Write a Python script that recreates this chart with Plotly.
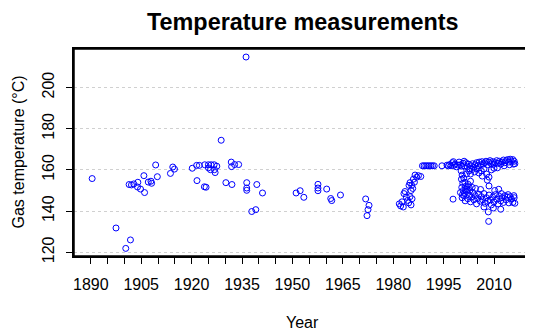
import plotly.graph_objects as go

# ---- data ----
early_years = [1890.4, 1897.5, 1900.4, 1901.8, 1901.4, 1902.1, 1902.8, 1904.0, 1903.9, 1904.8,
               1906.0, 1905.8, 1907.1, 1907.9, 1908.1, 1909.3, 1909.8, 1913.7, 1914.4, 1914.9,
               1920.2, 1921.6, 1921.5, 1922.3, 1923.8, 1924.3, 1923.9, 1925.0, 1925.8, 1926.7,
               1927.5, 1925.0, 1925.6, 1926.8, 1927.0, 1928.8, 1930.2, 1931.8, 1931.9, 1932.0,
               1932.8, 1934.0, 1936.2, 1936.4, 1936.4, 1936.4, 1939.4, 1937.9, 1939.1, 1941.1]
early_temps = [155.8, 131.8, 121.9, 126.0, 152.9, 152.7, 153.2, 154.0, 151.7, 150.7,
               149.0, 157.2, 154.1, 154.5, 153.5, 162.4, 156.7, 158.3, 161.4, 160.4,
               160.8, 154.8, 162.2, 162.2, 151.8, 151.6, 162.5, 162.5, 162.5, 162.5,
               161.8, 161.0, 160.1, 160.1, 158.7, 174.4, 153.8, 163.8, 161.6, 152.9,
               162.6, 162.6, 214.8, 153.8, 151.2, 150.1, 152.9, 139.8, 140.7, 148.8]

mid_years = [1951.1, 1952.3, 1953.4, 1957.6, 1957.6, 1957.6, 1960.2, 1961.4, 1961.7, 1964.3,
             1971.8, 1972.8, 1972.5, 1972.2]
mid_temps = [148.8, 149.9, 146.7, 153.0, 151.2, 149.9, 150.7, 146.1, 145.1, 147.8,
             145.9, 142.8, 140.7, 137.8]

eighties_years = [1981.8, 1982.2, 1982.6, 1983.0, 1983.2, 1983.5, 1983.9, 1984.3, 1984.7, 1985.0,
                  1985.5, 1985.3, 1985.0, 1984.6, 1985.3, 1985.6, 1986.0, 1986.5, 1987.0, 1987.5,
                  1988.2, 1986.3, 1985.8]
eighties_temps = [143.5, 142.5, 144.5, 142.0, 148.5, 149.5, 146.8, 145.2, 152.5, 153.8,
                  152.5, 150.0, 147.0, 144.0, 143.0, 146.0, 155.5, 157.5, 156.5, 157.2,
                  156.8, 154.0, 151.0]

row_years = [1988.7, 1989.2, 1989.7, 1990.2, 1990.7, 1991.2, 1991.7, 1992.2, 1994.5, 1996.0,
             1996.4, 1996.8, 1997.2, 1997.6, 1998.0, 1998.4, 1998.8, 1999.2, 1999.6, 1997.9,
             2001.1]
row_temps = [162.0, 162.0, 162.0, 162.0, 162.0, 162.0, 162.0, 162.0, 162.0, 162.3,
             162.0, 162.6, 162.0, 163.5, 162.2, 162.8, 161.5, 162.4, 163.8, 164.0,
             164.2]

upper_years = [2000.0, 2000.4, 2000.8, 2001.2, 2001.6, 2002.0, 2002.4, 2002.8, 2003.2, 2003.6,
               2004.0, 2004.4, 2004.8, 2005.2, 2005.6, 2006.0, 2006.4, 2006.8, 2007.2, 2007.6,
               2008.0, 2008.4, 2008.8, 2009.2, 2009.6, 2010.0, 2010.4, 2010.8, 2011.2, 2011.6,
               2012.0, 2012.4, 2012.8, 2013.2, 2013.6, 2014.0, 2014.4, 2014.8, 2015.2, 2015.6,
               2016.0, 2016.2, 2015.8, 2014.6, 2013.0,
               2002.5, 2003.0, 2003.5, 2004.2, 2005.0, 2005.5, 2006.2, 2007.0, 2007.8, 2008.5,
               2009.2, 2010.0, 2011.0, 2006.5, 2008.0]
upper_temps = [162.5, 161.8, 163.2, 162.0, 163.5, 161.5, 162.8, 160.5, 162.0, 163.0,
               161.2, 162.5, 163.5, 162.0, 163.8, 162.5, 164.0, 162.8, 163.5, 164.2,
               162.5, 163.8, 164.5, 163.0, 164.0, 162.8, 163.5, 164.5, 163.2, 164.2,
               162.8, 163.8, 164.8, 163.5, 164.5, 165.0, 163.8, 165.2, 164.0, 165.0,
               164.2, 163.0, 162.8, 162.5, 162.0,
               159.5, 158.0, 160.2, 159.0, 160.5, 158.5, 159.5, 160.5, 158.0, 156.5,
               160.0, 160.8, 161.0, 157.0, 155.0]

arm_years = [2000.2, 2000.5, 2000.3, 2000.7, 2000.4, 2000.8, 2001.0, 2001.3, 2001.5, 2001.8,
             2002.0, 2002.3, 2001.2, 2000.6, 2002.6, 2003.0]
arm_temps = [159.5, 157.5, 155.5, 153.5, 151.5, 150.0, 156.0, 154.0, 152.0, 158.0,
             150.5, 153.0, 148.5, 148.0, 151.5, 154.5]

lower_years = [2000.0, 2000.5, 2001.0, 2001.4, 2001.8, 2002.2, 2002.6, 2003.0, 2003.3, 2003.7,
               2004.0, 2004.4, 2004.8, 2005.1, 2005.5, 2005.9, 2006.2, 2006.6, 2007.0, 2007.3,
               2007.7, 2008.1, 2008.5, 2008.9, 2009.2, 2009.6, 2010.0, 2010.4, 2010.8, 2011.2,
               2011.6, 2012.0, 2012.4, 2012.8, 2013.2, 2013.6, 2014.0, 2014.4, 2014.8, 2015.2,
               2015.6, 2016.0, 2016.2, 2015.9, 2014.2, 2012.2, 2010.2, 2006.0, 2004.5, 2003.5,
               2002.8, 2001.5]
lower_temps = [149.0, 146.5, 147.5, 145.0, 149.5, 146.0, 147.8, 144.5, 146.8, 149.0,
               145.5, 147.5, 143.5, 146.2, 148.2, 144.8, 147.0, 145.5, 148.5, 143.8,
               146.5, 144.8, 147.8, 145.5, 143.0, 146.8, 144.5, 148.0, 145.8, 143.5,
               147.2, 145.0, 146.5, 144.2, 147.5, 145.5, 146.8, 144.0, 147.0, 145.8,
               144.2, 146.5, 143.8, 147.5, 148.0, 148.5, 150.0, 150.5, 151.0, 151.5,
               150.0, 150.5]

outlier_years = [1997.8, 2008.4, 2008.3, 2008.5, 2011.4, 2012.0, 2007.0, 2009.8]
outlier_temps = [145.8, 135.0, 139.6, 152.2, 150.6, 140.9, 142.0, 141.5]

x_tickvals = [1890, 1895, 1900, 1905, 1910, 1915, 1920, 1925, 1930, 1935, 1940, 1945, 1950,
              1955, 1960, 1965, 1970, 1975, 1980, 1985, 1990, 1995, 2000, 2005, 2010]
x_ticktext = ["1890", "", "", "1905", "", "", "1920", "", "", "1935", "", "", "1950",
              "", "", "1965", "", "", "1980", "", "", "1995", "", "", "2010"]
y_tickvals = [120, 140, 160, 180, 200]

years = (early_years + mid_years + eighties_years + row_years + upper_years
         + arm_years + lower_years + outlier_years)
temps = (early_temps + mid_temps + eighties_temps + row_temps + upper_temps
         + arm_temps + lower_temps + outlier_temps)

FONT = "Liberation Sans, Arial, Helvetica, sans-serif"
# the page body keeps its default 8px margin, so the figure is laid out 8px in
W, H = 525, 323
L, R, T, B = 66, 2, 41, 75
PW, PH = W - L - R, H - T - B
TICK = 6

fig = go.Figure()
fig.add_trace(go.Scatter(
    x=years, y=temps, mode="markers",
    marker=dict(symbol="circle-open", size=6, color="#0000FF", line=dict(width=1)),
    showlegend=False, hoverinfo="x+y",
))

fig.update_layout(
    width=W, height=H,
    margin=dict(l=L, r=R, t=T, b=B, autoexpand=False),
    paper_bgcolor="white", plot_bgcolor="white",
    font=dict(family=FONT, size=16, color="black"),
    shapes=[dict(type="rect", xref="paper", yref="paper", x0=0, x1=1, y0=0, y1=1,
                 line=dict(color="black", width=1.5), layer="above")],
    annotations=[
        dict(text="<b>Temperature measurements</b>", xref="paper", yref="paper",
             x=0.5, y=1, xanchor="center", yanchor="middle", yshift=T - 14,
             showarrow=False, font=dict(family=FONT, size=23.4, color="black")),
        dict(text="Year", xref="paper", yref="paper", x=0.5, y=0,
             xanchor="center", yanchor="middle", yshift=-66,
             showarrow=False, font=dict(family=FONT, size=16, color="black")),
        dict(text="Gas temperature (°C)", xref="paper", yref="paper",
             x=(10 - L) / PW, y=0.5, xanchor="center", yanchor="middle", textangle=-90,
             showarrow=False, font=dict(family=FONT, size=16, color="black")),
    ],
)

fig.update_xaxes(
    range=[1885, 2021], tickmode="array", tickvals=x_tickvals, ticktext=x_ticktext,
    ticks="outside", ticklen=TICK, tickwidth=1, tickcolor="black",
    showline=True, linecolor="black", linewidth=1.5, mirror=True,
    showgrid=False, zeroline=False, ticklabelstandoff=7, automargin=False,
    tickfont=dict(family=FONT, size=16, color="black"),
)
fig.update_yaxes(
    range=[118.2, 218.7], tickmode="array", tickvals=y_tickvals,
    ticks="outside", ticklen=TICK, tickwidth=1, tickcolor="black", tickangle=-90,
    showline=True, linecolor="black", linewidth=1.5, mirror=True,
    showgrid=True, gridcolor="#D0D0D0", griddash="dot", gridwidth=1,
    zeroline=False, ticklabelstandoff=6, automargin=False,
    tickfont=dict(family=FONT, size=16, color="black"),
)

fig.write_html("out.html", config={"displayModeBar": False})
